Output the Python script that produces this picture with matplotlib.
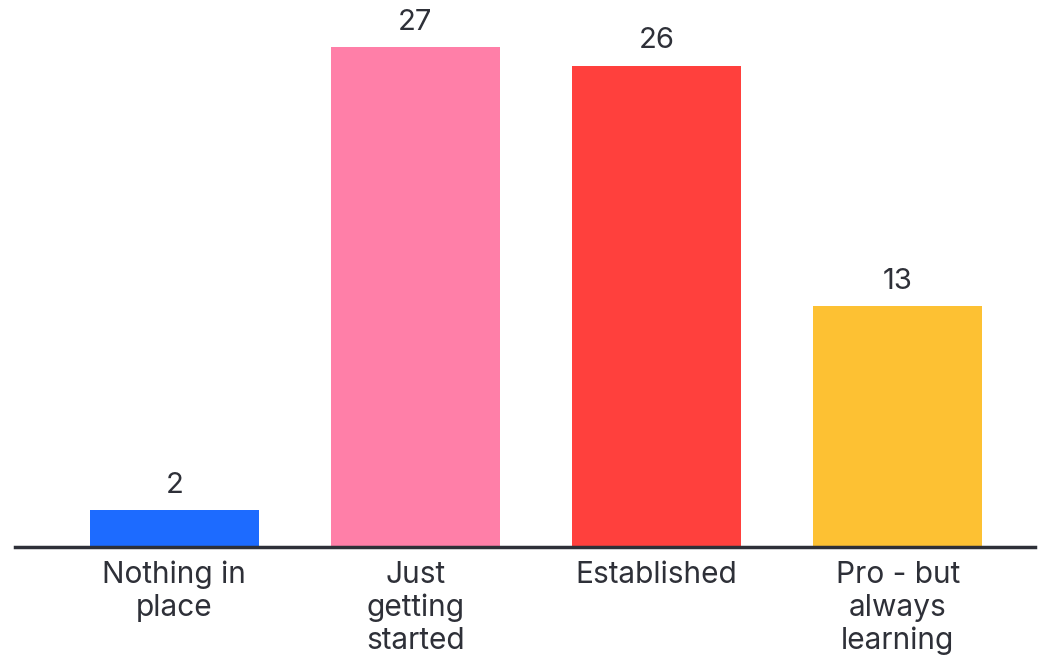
import matplotlib.pyplot as plt

categories = ["Nothing in\nplace", "Just\ngetting\nstarted", "Established", "Pro - but\nalways\nlearning"]
values = [2, 27, 26, 13]
colors = ["#1d6bff", "#ff7fa8", "#ff403d", "#fdc133"]

text_color = "#2e3038"

fig = plt.figure(figsize=(10.38, 6.63), dpi=100)
ax = fig.add_axes([0.0145, 0.175, 0.9827, 0.825])

x = list(range(len(values)))
bars = ax.bar(x, values, width=0.7, color=colors)

for xi, v in zip(x, values):
    ax.text(xi, v + 0.6, str(v), ha="center", va="bottom",
            fontsize=21, color=text_color, family="Inter")

ax.set_xlim(-0.66, 3.57)
ax.set_ylim(0, 29.54)
ax.set_xticks(x)
ax.set_xticklabels(categories, fontsize=21.5, color=text_color, family="Inter",
                   linespacing=1.22)
ax.tick_params(axis="x", length=0, pad=10)
ax.set_yticks([])

for side in ["top", "right", "left"]:
    ax.spines[side].set_visible(False)
ax.spines["bottom"].set_linewidth(2.5)
ax.spines["bottom"].set_color(text_color)

fig.savefig("out.png", dpi=100)
